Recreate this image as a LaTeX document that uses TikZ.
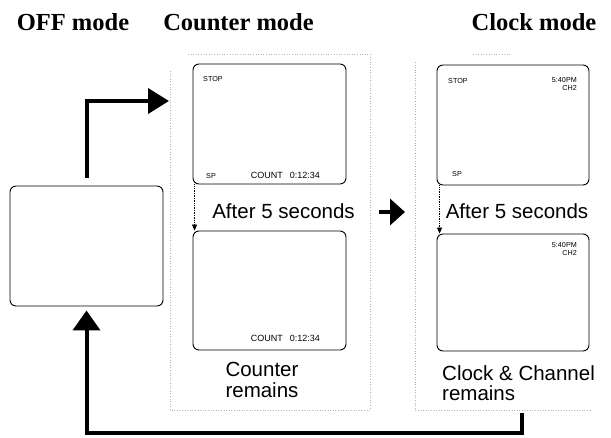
\documentclass[tikz,border=0pt]{standalone}
\usepackage{fontspec}
\setmainfont{Liberation Serif}
\setsansfont{Liberation Sans}
\usetikzlibrary{arrows.meta}

\begin{document}
\begin{tikzpicture}[x=1pt,y=-1pt,
  title/.style={font=\fontsize{24.5}{26}\selectfont\bfseries, inner sep=0pt},
  screen/.style={draw, line width=0.9pt, rounded corners=6pt, minimum width=153pt, minimum height=120pt, inner sep=0pt},
  osd/.style={font=\sffamily\fontsize{7.2}{7.4}\selectfont, inner sep=0pt},
  count/.style={font=\sffamily\fontsize{9}{9}\selectfont, inner sep=0pt},
  caption/.style={font=\sffamily\fontsize{20.5}{20.5}\selectfont, inner sep=0pt},
  bigarrow/.style={line width=4pt, -{Triangle[length=21pt,width=25pt]}},
  waitarrow/.style={densely dotted, line width=0.7pt, -{Triangle[length=6pt,width=5pt]}},
  panel/.style={gray!60, dotted, line width=0.6pt}]
\useasboundingbox (0,0) rectangle (611,437);

% faint panel frames
\draw[panel] (188,54) -- (370,54) -- (370,410) -- (170,410) -- (170,70);
\draw[panel] (473,54) -- (512,54);
\draw[panel] (415,62) -- (415,410) -- (590,410);

% titles
\node[title, anchor=base] (offttl) at (73,30) {OFF mode};
\node[title, anchor=base] (cntttl) at (238.5,30) {Counter mode};
\node[title, anchor=base] (clkttl) at (534,30) {Clock mode};

% screens
\node[screen] (off) at (86.5,246) {};
\node[screen] (cnt1) at (269.5,124) {};
\node[screen, minimum height=119pt] (cnt2) at (269.5,290.5) {};
\node[screen, minimum width=152pt] (clk1) at (513,125) {};
\node[screen, minimum width=152pt, minimum height=117pt] (clk2) at (513,292.5) {};

% on-screen texts
\node[osd, anchor=base west] (cstop) at (203,81) {STOP};
\node[osd, anchor=base west] (csp) at (206,178) {SP};
\node[count, anchor=base east] (ccount) at (320,178) {COUNT\hspace{7pt}0:12:34};
\node[count, anchor=base east] (ccount2) at (320,341) {COUNT\hspace{7pt}0:12:34};
\node[osd, anchor=base west] (kstop) at (448,83) {STOP};
\node[osd, align=right, anchor=north east] (ktime) at (577,77.5) {5:40PM\\CH2};
\node[osd, anchor=base west] (ksp) at (452,176) {SP};
\node[osd, align=right, anchor=north east] (ktime2) at (577,242.5) {5:40PM\\CH2};

% captions
\node[caption, anchor=base] (wait1) at (283.5,218) {After 5 seconds};
\node[caption, anchor=base] (wait2) at (517,218) {After 5 seconds};
\node[caption, align=center, anchor=north] (cntnote) at (262,362) {Counter\\remains};
\node[caption, align=left, anchor=north west] (clknote) at (442,365) {Clock \& Channel\\remains};

% arrows
\coordinate (cntin) at (169,101);
\draw[bigarrow, shorten <=8pt] (off.north) |- (cntin);

\coordinate (hopa) at (379,212);
\coordinate (hopb) at (405,212);
\draw[line width=4.5pt, -{Triangle[length=15pt,width=26pt]}] (hopa) -- (hopb);

\coordinate (clkout) at (522,413);
\coordinate (ret) at (522,433);
\draw[line width=4pt, -{Triangle[length=20pt,width=27pt]}, shorten >=4pt] (clkout) -- (ret) -| (off.south);

\draw[waitarrow] ([xshift=2pt]cnt1.south west) -- ([xshift=2pt]cnt2.north west);
\draw[waitarrow] ([xshift=3pt]clk1.south west) -- ([xshift=3pt]clk2.north west);
\end{tikzpicture}
\end{document}
